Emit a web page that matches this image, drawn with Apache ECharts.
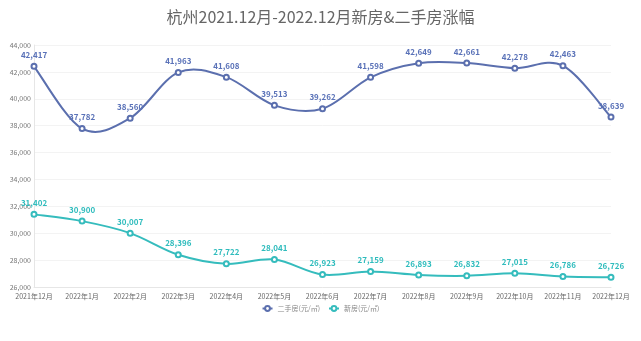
<!DOCTYPE html>
<html>
<head>
<meta charset="utf-8">
<script src="https://cdn.jsdelivr.net/npm/echarts@6/dist/echarts.min.js"></script>
<style>
  html, body { margin: 0; padding: 0; background: #fff; }
  #chart { width: 641px; height: 341px; }
</style>
</head>
<body>
<div id="chart"></div>
<script>
// Monthly average prices in Hangzhou, Dec 2021 – Dec 2022
const months = ['2021年12月', '2022年1月', '2022年2月', '2022年3月', '2022年4月', '2022年5月', '2022年6月',
  '2022年7月', '2022年8月', '2022年9月', '2022年10月', '2022年11月', '2022年12月'];
const resalePrices = [42417, 37782, 38560, 41963, 41608, 39513, 39262, 41598, 42649, 42661, 42278, 42463, 38639];
const newHomePrices = [31402, 30900, 30007, 28396, 27722, 28041, 26923, 27159, 26893, 26832, 27015, 26786, 26726];
const seriesNames = ['二手房(元/㎡)', '新房(元/㎡)'];
const chartTitle = '杭州2021.12月-2022.12月新房&二手房涨幅';

const RESALE_COLOR = '#5b6fae';
const NEW_COLOR = '#35bcbd';

const fmt = v => v.toLocaleString('en-US');
const font = '"Noto Sans CJK SC", "Noto Sans", sans-serif';

// Catmull-Rom curve through the points, built from the axis coordinates
function splineSeries(values, color) {
  return {
    type: 'custom',
    silent: true,
    z: 1,
    data: values.map((v, i) => [i, v]),
    encode: { x: 0, y: 1 },
    renderItem: (params, api) => {
      if (params.dataIndex !== 0) return null;
      const p = values.map((v, i) => api.coord([i, v]));
      const n = p.length;
      const children = [];
      for (let i = 0; i < n - 1; i++) {
        const p0 = p[Math.max(i - 1, 0)], p1 = p[i], p2 = p[i + 1], p3 = p[Math.min(i + 2, n - 1)];
        children.push({
          type: 'bezierCurve',
          shape: {
            x1: p1[0], y1: p1[1], x2: p2[0], y2: p2[1],
            cpx1: p1[0] + (p2[0] - p0[0]) / 6, cpy1: p1[1] + (p2[1] - p0[1]) / 6,
            cpx2: p2[0] - (p3[0] - p1[0]) / 6, cpy2: p2[1] - (p3[1] - p1[1]) / 6
          },
          style: { fill: null, stroke: color, lineWidth: 2 }
        });
      }
      return { type: 'group', children };
    }
  };
}

function markerSeries(name, values, color, labelColor) {
  return {
    name,
    type: 'line',
    z: 3,
    data: values,
    symbol: 'emptyCircle',
    symbolSize: 5,
    lineStyle: { color, width: 2, opacity: 0 },
    itemStyle: { color, borderWidth: 1 },
    label: {
      show: true, position: 'top', distance: 4,
      color: labelColor, fontSize: 8, fontWeight: 'bold',
      formatter: p => fmt(p.value), fontFamily: font
    }
  };
}

const chart = echarts.init(document.getElementById('chart'));
chart.setOption({
  animation: false,
  title: {
    text: chartTitle,
    left: 'center',
    top: 4,
    textStyle: { color: '#666', fontSize: 16, fontWeight: 'normal', fontFamily: font }
  },
  legend: {
    bottom: 24,
    left: 'center',
    itemWidth: 10,
    itemHeight: 6,
    itemGap: 8,
    lineStyle: { opacity: 1 },
    textStyle: { color: '#888', fontSize: 7, fontFamily: font },
    data: seriesNames
  },
  grid: { left: 34, right: 30, top: 45, bottom: 54, containLabel: false },
  xAxis: {
    type: 'category',
    data: months,
    boundaryGap: false,
    axisLine: { lineStyle: { color: '#e6e6e6' } },
    axisTick: { show: false },
    axisLabel: { color: '#666', fontSize: 7, margin: 6, interval: 0, fontFamily: font }
  },
  yAxis: {
    type: 'value',
    min: 26000,
    max: 44000,
    interval: 2000,
    axisLine: { show: true, lineStyle: { color: '#e6e6e6' } },
    axisTick: { show: false },
    splitLine: { lineStyle: { color: '#f3f3f3' } },
    axisLabel: { color: '#777', fontSize: 7, margin: 3, formatter: fmt, fontFamily: font }
  },
  series: [
    splineSeries(resalePrices, RESALE_COLOR),
    splineSeries(newHomePrices, NEW_COLOR),
    markerSeries(seriesNames[0], resalePrices, RESALE_COLOR, '#5a72b8'),
    markerSeries(seriesNames[1], newHomePrices, NEW_COLOR, '#2fbcbd')
  ]
});
</script>
</body>
</html>
